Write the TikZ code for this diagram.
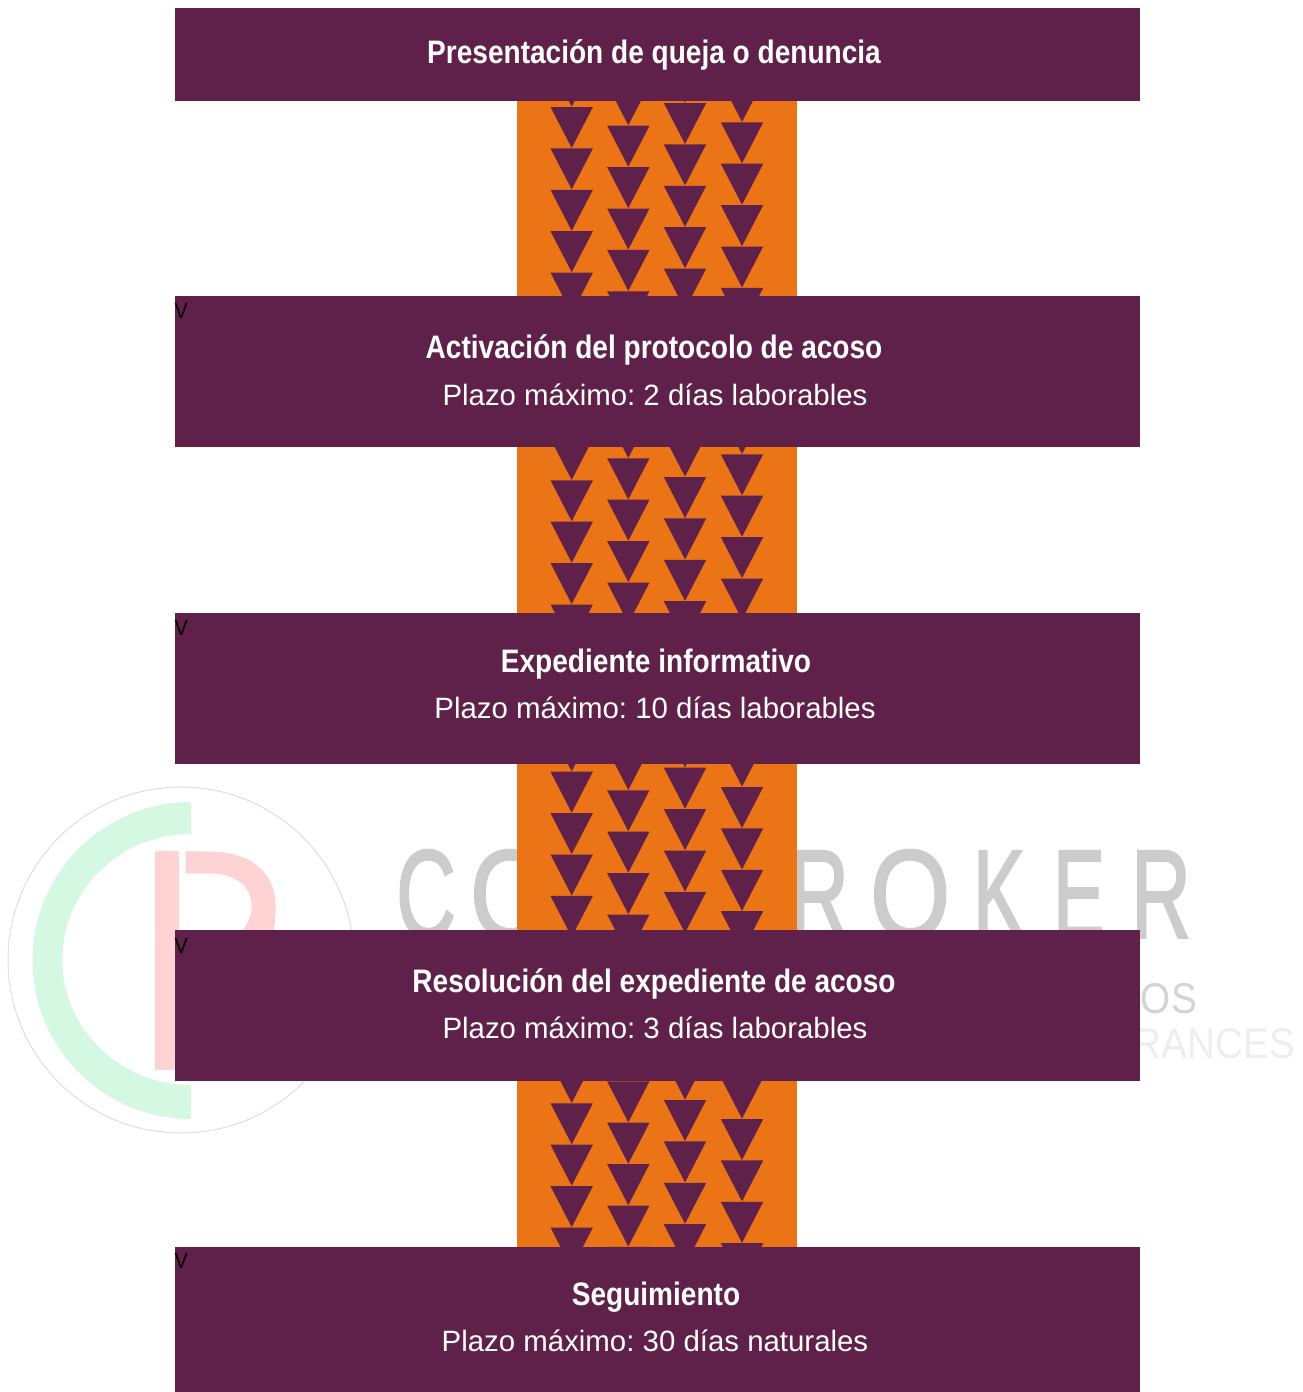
\documentclass[tikz,border=0pt]{standalone}
\usepackage{fontspec}
\setmainfont{Liberation Sans}
\setsansfont{Liberation Sans}
\newfontfamily\headfont{Liberation Sans}[FakeStretch=0.863]
\newfontfamily\logofont{Liberation Sans}[FakeBold=2]
\definecolor{plum}{HTML}{5F214A}
\definecolor{flow}{HTML}{EB7516}
\definecolor{ringgreen}{HTML}{D4F8E2}
\definecolor{markpink}{HTML}{FFD2D4}
\definecolor{markgrey}{HTML}{CCCCCC}
\definecolor{markpale}{HTML}{EEEEEE}
\tikzset{
    stagebox/.style={fill=plum,inner sep=0pt,minimum width=965pt},
    stagehead/.style={anchor=base,text=white,inner sep=0pt,font=\headfont\bfseries\fontsize{32.5}{36}\selectfont},
    stagetime/.style={anchor=base,text=white,inner sep=0pt,font=\frenchspacing\fontsize{29.4}{32}\selectfont},
    stagemark/.style={anchor=base west,inner sep=0pt,font=\fontsize{22}{24}\selectfont,xscale=0.9},
    logoletter/.style={anchor=base west,inner sep=0pt,text=markgrey,font=\logofont\fontsize{125.5}{130}\selectfont},
    logosmall/.style={anchor=base east,inner sep=0pt,font=\fontsize{43}{46}\selectfont}
}
\begin{document}
\begin{tikzpicture}[x=1pt,y=-1pt]
    \useasboundingbox (0,0) rectangle (1302,1392);
    \fill[white] (0,0) rectangle (1302,1392);

    \draw[black!13,line width=1pt] (181,960) circle (173);
    \fill[ringgreen] (191,802) arc[start angle=270,end angle=90,radius=158.5] -- (191,1085) arc[start angle=90,end angle=270,x radius=128.7,y radius=125.5] -- cycle;
    \fill[markpink] (155,851) rectangle (178.7,1070);
    \fill[markpink] (185.7,851) -- (213,851.7) .. controls (255,853) and (275.7,875) .. (275.7,907) .. controls (275.7,916) and (275,923) .. (273,935) -- (240,935) .. controls (247,925) and (251.7,916) .. (251.7,907) .. controls (251.7,885) and (235,873.3) .. (206.7,873.3) -- (185.7,873.3) -- cycle;

    \node[logoletter,xscale=0.66] (letterc) at (396,937.5) {C};
    \node[logoletter,xscale=0.82] (lettero) at (470,937.5) {O};
    \node[logoletter,xscale=0.66] (letterr) at (789,937.5) {R};
    \node[logoletter,xscale=0.82] (letteroo) at (870,937.5) {O};
    \node[logoletter,xscale=0.62] (letterk) at (973,937.5) {K};
    \node[logoletter,xscale=0.62] (lettere) at (1053,937.5) {E};
    \node[logoletter,xscale=0.66] (letterrr) at (1131,937.5) {R};
    \node[logosmall,text=markgrey!85,xscale=0.9] (wordos) at (1197,1013) {ROS};
    \node[logosmall,text=markpale,xscale=0.9] (wordrances) at (1295,1058) {RANCES};

    \foreach \ptop/\pbot/\ca/\cb/\cc/\cd in {101/296/107/125.7/103/122.3,447/613/480.3/458.3/477/454.3,764/930/771.7/790.3/767.7/787,1081/1247/1103.3/1122.7/1100/1119} {
        \begin{scope}
            \clip (517,\ptop) rectangle (797,\pbot);
            \fill[flow] (517,\ptop) rectangle (797,\pbot);
            \foreach \cx/\cy in {571.7/\ca,628.3/\cb,685/\cc,742/\cd} {
                \foreach \k in {-1,...,5} {
                    \fill[plum] ({\cx-21.2},{\cy+41.4*\k}) -- ({\cx+21.2},{\cy+41.4*\k}) -- (\cx,{\cy+41.4*\k+41}) -- cycle;
                }
            }
        \end{scope}
    }

    \node[stagebox,minimum height=93pt] (queja) at (657.5,54.5) {};
    \node[stagebox,minimum height=151pt] (protocolo) at (657.5,371.5) {};
    \node[stagebox,minimum height=151pt] (expediente) at (657.5,688.5) {};
    \node[stagebox,minimum height=151pt] (resolucion) at (657.5,1005.5) {};
    \node[stagebox,minimum height=145pt] (seguimiento) at (657.5,1319.5) {};

    \node[stagehead] (quejahead) at (654,63.3) {Presentación de queja o denuncia};
    \node[stagehead] (protocolohead) at (654,358) {Activación del protocolo de acoso};
    \node[stagetime] (protocolotime) at (655,405) {Plazo máximo: 2 días laborables};
    \node[stagehead] (expedientehead) at (656,672) {Expediente informativo};
    \node[stagetime] (expedientetime) at (655,718) {Plazo máximo: 10 días laborables};
    \node[stagehead] (resolucionhead) at (654,992) {Resolución del expediente de acoso};
    \node[stagetime] (resoluciontime) at (655,1038) {Plazo máximo: 3 días laborables};
    \node[stagehead] (seguimientohead) at (656,1305) {Seguimiento};
    \node[stagetime] (seguimientotime) at (655,1351) {Plazo máximo: 30 días naturales};

    \node[stagemark] (markone) at (174.5,318) {V};
    \node[stagemark] (marktwo) at (174.5,635) {V};
    \node[stagemark] (markthree) at (174.5,953) {V};
    \node[stagemark] (markfour) at (174.5,1268) {V};
\end{tikzpicture}
\end{document}
